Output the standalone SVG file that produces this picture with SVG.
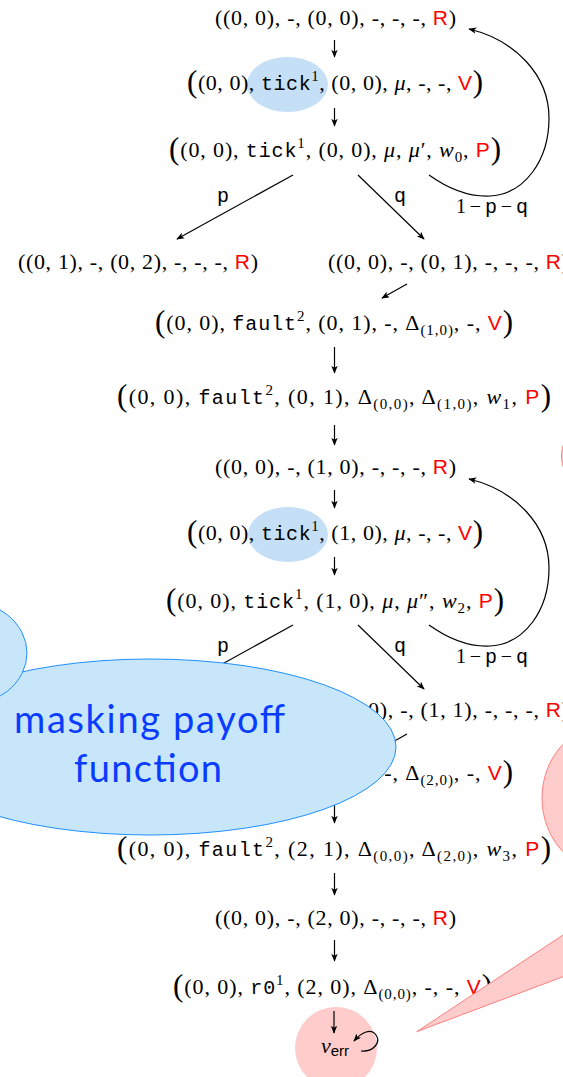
<svg xmlns="http://www.w3.org/2000/svg" width="563" height="1077" viewBox="0 0 563 1077">
<style>
.m{font-family:"Liberation Serif",serif;font-size:22px;fill:#000}
.tt{font-family:"Liberation Mono",monospace;font-size:20px}
.sf{font-family:"Liberation Sans",sans-serif;font-size:21px;fill:#ff0000}
.it{font-style:italic}
.bp{font-size:31px}
.sp{font-size:15px}
.sb{font-size:15px}
.lbl{font-family:"Liberation Mono",monospace;font-size:20px;fill:#000}
.edge{fill:none;stroke:#000;stroke-width:1.2;marker-end:url(#ah)}
.tickbg{fill:#c5e0f6}
.blob{fill:#c8e6fa;stroke:#1e90ff;stroke-width:1}
.pink{fill:#ffcccc;stroke:#ff8080;stroke-width:1}
.note{font-family:Lato,"Open Sans",sans-serif;font-size:38px;fill:#0a3cff}
</style>
<defs>
<marker id="ah" viewBox="0 0 10 8" refX="9" refY="4" markerWidth="8" markerHeight="6.4" markerUnits="userSpaceOnUse" orient="auto"><path d="M0,0 L10,4 L0,8 L2.5,4 z" fill="#000"/></marker>
</defs>

<g id="backgrounds">
<ellipse class="tickbg" cx="287.5" cy="84.5" rx="40.5" ry="27.5"/>
<ellipse class="tickbg" cx="288" cy="534.5" rx="40" ry="27.5"/>
<circle cx="336" cy="1048" r="41" fill="#ffcccc"/>
</g>

<g id="n-r00"><text class="m" x="215" y="25" textLength="241">((0, 0), -, (0, 0), -, -, -, <tspan class="sf">R</tspan>)</text></g>
<g id="n-v00"><text class="m" x="187" y="90" textLength="296"><tspan class="bp" dy="2">(</tspan><tspan dy="-2">(0, 0), </tspan><tspan class="tt">tick</tspan><tspan class="sp" dy="-9">1</tspan><tspan dy="9">, (0, 0), </tspan><tspan class="it">μ</tspan>, -, -, <tspan class="sf">V</tspan><tspan class="bp" dy="2">)</tspan></text></g>
<g id="n-p00"><text class="m" x="169" y="157" textLength="332"><tspan class="bp" dy="2">(</tspan><tspan dy="-2">(0, 0), </tspan><tspan class="tt">tick</tspan><tspan class="sp" dy="-9">1</tspan><tspan dy="9">, (0, 0), </tspan><tspan class="it">μ</tspan>, <tspan class="it">μ</tspan>′, <tspan class="it">w</tspan><tspan class="sb" dy="5">0</tspan><tspan dy="-5">, </tspan><tspan class="sf">P</tspan><tspan class="bp" dy="2">)</tspan></text></g>
<g id="n-r01-02"><text class="m" x="18" y="269" textLength="240">((0, 1), -, (0, 2), -, -, -, <tspan class="sf">R</tspan>)</text></g>
<g id="n-r00-01"><text class="m" x="328" y="269" textLength="241">((0, 0), -, (0, 1), -, -, -, <tspan class="sf">R</tspan>)</text></g>
<g id="n-v-fault01"><text class="m" x="155" y="330" textLength="358"><tspan class="bp" dy="2">(</tspan><tspan dy="-2">(0, 0), </tspan><tspan class="tt">fault</tspan><tspan class="sp" dy="-9">2</tspan><tspan dy="9">, (0, 1), -, Δ</tspan><tspan class="sb" dy="5">(1,0)</tspan><tspan dy="-5">, -, </tspan><tspan class="sf">V</tspan><tspan class="bp" dy="2">)</tspan></text></g>
<g id="n-p-fault01"><text class="m" x="117" y="404" textLength="434"><tspan class="bp" dy="2">(</tspan><tspan dy="-2">(0, 0), </tspan><tspan class="tt">fault</tspan><tspan class="sp" dy="-9">2</tspan><tspan dy="9">, (0, 1), Δ</tspan><tspan class="sb" dy="5">(0,0)</tspan><tspan dy="-5">, Δ</tspan><tspan class="sb" dy="5">(1,0)</tspan><tspan dy="-5">, </tspan><tspan class="it">w</tspan><tspan class="sb" dy="5">1</tspan><tspan dy="-5">, </tspan><tspan class="sf">P</tspan><tspan class="bp" dy="2">)</tspan></text></g>
<g id="n-r10"><text class="m" x="215" y="474" textLength="241">((0, 0), -, (1, 0), -, -, -, <tspan class="sf">R</tspan>)</text></g>
<g id="n-v10"><text class="m" x="187" y="540" textLength="296"><tspan class="bp" dy="2">(</tspan><tspan dy="-2">(0, 0), </tspan><tspan class="tt">tick</tspan><tspan class="sp" dy="-9">1</tspan><tspan dy="9">, (1, 0), </tspan><tspan class="it">μ</tspan>, -, -, <tspan class="sf">V</tspan><tspan class="bp" dy="2">)</tspan></text></g>
<g id="n-p10"><text class="m" x="166" y="608" textLength="338"><tspan class="bp" dy="2">(</tspan><tspan dy="-2">(0, 0), </tspan><tspan class="tt">tick</tspan><tspan class="sp" dy="-9">1</tspan><tspan dy="9">, (1, 0), </tspan><tspan class="it">μ</tspan>, <tspan class="it">μ</tspan>″, <tspan class="it">w</tspan><tspan class="sb" dy="5">2</tspan><tspan dy="-5">, </tspan><tspan class="sf">P</tspan><tspan class="bp" dy="2">)</tspan></text></g>
<g id="n-r11"><text class="m" x="328" y="717" textLength="241">((0, 0), -, (1, 1), -, -, -, <tspan class="sf">R</tspan>)</text></g>
<g id="n-v-fault20"><text class="m" x="155" y="780" textLength="358"><tspan class="bp" dy="2">(</tspan><tspan dy="-2">(0, 0), </tspan><tspan class="tt">fault</tspan><tspan class="sp" dy="-9">2</tspan><tspan dy="9">, (2, 0), -, Δ</tspan><tspan class="sb" dy="5">(2,0)</tspan><tspan dy="-5">, -, </tspan><tspan class="sf">V</tspan><tspan class="bp" dy="2">)</tspan></text></g>
<g id="n-p-fault21"><text class="m" x="117" y="856" textLength="434"><tspan class="bp" dy="2">(</tspan><tspan dy="-2">(0, 0), </tspan><tspan class="tt">fault</tspan><tspan class="sp" dy="-9">2</tspan><tspan dy="9">, (2, 1), Δ</tspan><tspan class="sb" dy="5">(0,0)</tspan><tspan dy="-5">, Δ</tspan><tspan class="sb" dy="5">(2,0)</tspan><tspan dy="-5">, </tspan><tspan class="it">w</tspan><tspan class="sb" dy="5">3</tspan><tspan dy="-5">, </tspan><tspan class="sf">P</tspan><tspan class="bp" dy="2">)</tspan></text></g>
<g id="n-r20"><text class="m" x="215" y="925" textLength="241">((0, 0), -, (2, 0), -, -, -, <tspan class="sf">R</tspan>)</text></g>
<g id="n-v-r0"><text class="m" x="173" y="994" textLength="319"><tspan class="bp" dy="2">(</tspan><tspan dy="-2">(0, 0), </tspan><tspan class="tt">r0</tspan><tspan class="sp" dy="-9">1</tspan><tspan dy="9">, (2, 0), Δ</tspan><tspan class="sb" dy="5">(0,0)</tspan><tspan dy="-5">, -, -, </tspan><tspan class="sf">V</tspan><tspan class="bp" dy="2">)</tspan></text></g>
<g id="n-err"><text class="m" x="321" y="1053"><tspan class="it">v</tspan><tspan font-family="Liberation Sans, sans-serif" font-size="15" dy="3">err</tspan></text></g>

<g id="connectors">
<line class="edge" x1="334.5" y1="40" x2="334.5" y2="57"/>
<line class="edge" x1="334.5" y1="108" x2="334.5" y2="126"/>
<line class="edge" x1="293" y1="175" x2="177" y2="239"/>
<line class="edge" x1="358" y1="175" x2="424" y2="239"/>
<path class="edge" d="M429,175 C450,190 470,197 490,196 C525,194 549,160 549,118 C549,75 515,40 469,29"/>
<text class="lbl" x="223" y="202" text-anchor="middle">p</text>
<text class="lbl" x="400" y="202" text-anchor="middle">q</text>
<text class="m" x="456" y="213" textLength="72"><tspan font-size="20">1−</tspan><tspan class="tt">p</tspan><tspan font-size="20">−</tspan><tspan class="tt">q</tspan></text>
<line class="edge" x1="407" y1="284" x2="382" y2="298"/>
<line class="edge" x1="334.5" y1="347" x2="334.5" y2="373"/>
<line class="edge" x1="334.5" y1="425" x2="334.5" y2="445"/>
<line class="edge" x1="334.5" y1="490" x2="334.5" y2="508"/>
<line class="edge" x1="334.5" y1="557" x2="334.5" y2="575"/>
<line class="edge" x1="293" y1="625" x2="177" y2="689"/>
<line class="edge" x1="358" y1="625" x2="424" y2="689"/>
<path class="edge" d="M429,625 C450,640 470,647 490,646 C525,644 549,610 549,568 C549,525 515,490 469,479"/>
<text class="lbl" x="223" y="652" text-anchor="middle">p</text>
<text class="lbl" x="400" y="652" text-anchor="middle">q</text>
<text class="m" x="456" y="663" textLength="72"><tspan font-size="20">1−</tspan><tspan class="tt">p</tspan><tspan font-size="20">−</tspan><tspan class="tt">q</tspan></text>
<line class="edge" x1="407" y1="734" x2="382" y2="748"/>
<line class="edge" x1="334.5" y1="800" x2="334.5" y2="823"/>
<line class="edge" x1="334.5" y1="873" x2="334.5" y2="895"/>
<line class="edge" x1="334.5" y1="940" x2="334.5" y2="961"/>
<line class="edge" x1="334" y1="1011" x2="334" y2="1033"/>
<path class="edge" d="M361,1051 C374,1052 381,1042 376,1035 C371,1028 362,1032 354,1041"/>
</g>

<g id="note-masking">
<ellipse class="blob" cx="150" cy="747" rx="246" ry="88"/>
<ellipse class="blob" cx="-40" cy="653" rx="67" ry="54"/>
<text class="note" x="14" y="733" textLength="271">masking payoff</text>
<text class="note" x="74" y="782" textLength="148">function</text>
</g>

<g id="note-pink">
<circle class="pink" cx="600" cy="456" r="38.5"/>
<ellipse class="pink" cx="605" cy="798" rx="63" ry="72"/>
<polygon class="pink" points="416.7,1031.7 600,910.5 600,962.8"/>
</g>
</svg>
